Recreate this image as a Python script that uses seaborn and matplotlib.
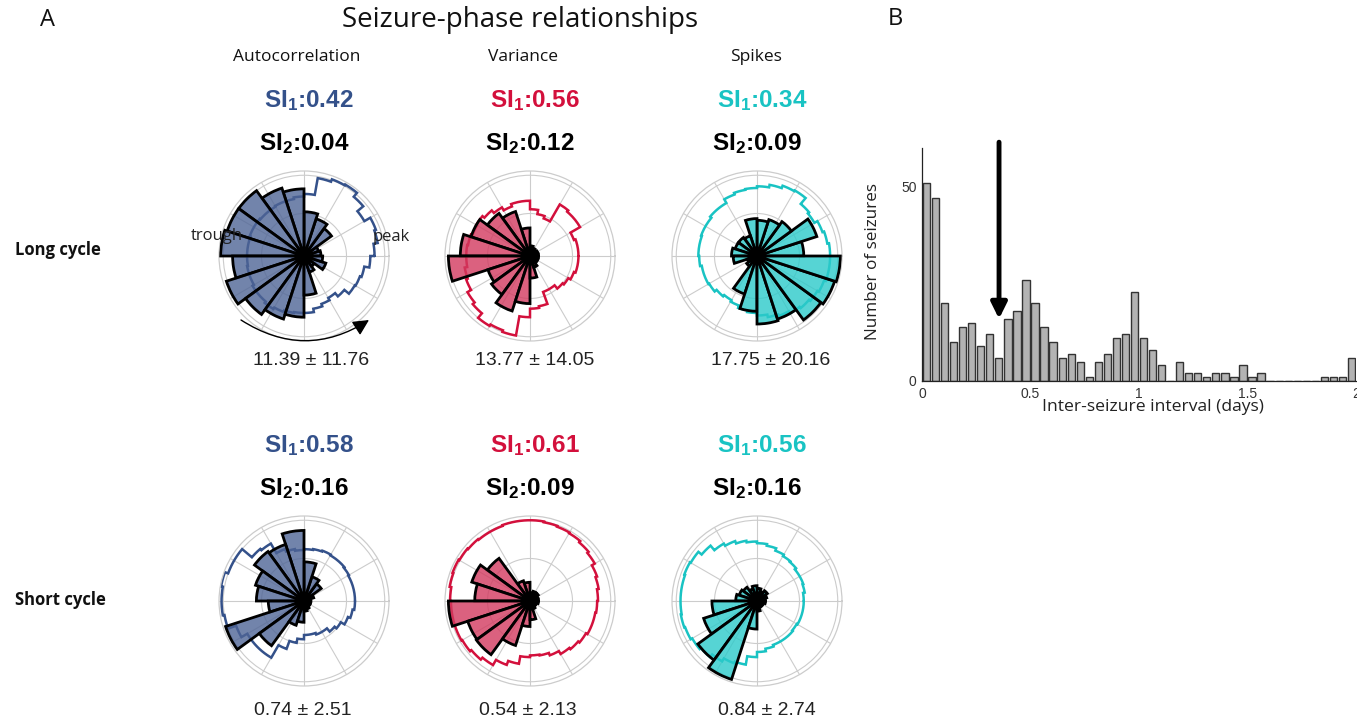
import numpy as np
import pandas as pd
import matplotlib
matplotlib.use("Agg")
import matplotlib.pyplot as plt
from matplotlib.colors import to_rgba
from matplotlib.patches import FancyArrowPatch
import seaborn as sns

W, H = 1357, 717

# ---------------- data ----------------
cycle_rows = ["Long cycle", "Short cycle"]
feature_cols = ["Autocorrelation", "Variance", "Spikes"]

si1_long = [0.42, 0.56, 0.34]
si2_long = [0.04, 0.12, 0.09]
si1_short = [0.58, 0.61, 0.56]
si2_short = [0.16, 0.09, 0.16]

cycle_mean_long = ["11.39", "13.77", "17.75"]
cycle_sd_long = ["11.76", "14.05", "20.16"]
cycle_mean_short = ["0.74", "0.54", "0.84"]
cycle_sd_short = ["2.51", "2.13", "2.74"]

# seizure-phase bars: 20 bins of 18 degrees, counter-clockwise from 0 (peak)
long_autocorr_bars = [0.2, 0.18, 0.4, 0.46, 0.52, 0.79, 0.84, 0.95, 0.95, 0.98,
                      0.84, 0.96, 0.85, 0.78, 0.72, 0.46, 0.2, 0.15, 0.27, 0.22]
long_variance_bars = [0.1, 0.1, 0.09, 0.1, 0.12, 0.33, 0.55, 0.62, 0.73, 0.82,
                      0.96, 0.52, 0.56, 0.68, 0.56, 0.26, 0.14, 0.1, 0.1, 0.1]
long_spikes_bars = [0.55, 0.74, 0.5, 0.45, 0.42, 0.44, 0.25, 0.27, 0.27, 0.3,
                    0.28, 0.12, 0.15, 0.47, 0.65, 0.8, 0.78, 0.93, 0.96, 0.98]
short_autocorr_bars = [0.08, 0.12, 0.25, 0.3, 0.46, 0.83, 0.7, 0.72, 0.6, 0.56,
                       0.42, 0.97, 0.65, 0.3, 0.25, 0.12, 0.1, 0.08, 0.08, 0.08]
short_variance_bars = [0.1, 0.1, 0.12, 0.12, 0.1, 0.22, 0.25, 0.62, 0.72, 0.65,
                       0.96, 0.77, 0.78, 0.55, 0.3, 0.22, 0.1, 0.08, 0.08, 0.1]
short_spikes_bars = [0.1, 0.12, 0.15, 0.12, 0.15, 0.18, 0.15, 0.2, 0.22, 0.25,
                     0.53, 0.66, 0.86, 0.97, 0.33, 0.12, 0.08, 0.08, 0.08, 0.1]

# phase occupancy of the signal: 36 bins of 10 degrees
long_autocorr_outline = [0.83, 0.88, 0.9, 0.82, 0.91, 0.97, 0.96, 0.93, 0.73, 0.7,
                         0.68, 0.68, 0.67, 0.67, 0.68, 0.68, 0.67, 0.67, 0.67, 0.68,
                         0.68, 0.7, 0.7, 0.72, 0.7, 0.68, 0.67, 0.67, 0.63, 0.6,
                         0.57, 0.62, 0.69, 0.7, 0.72, 0.78]
long_variance_outline = [0.57, 0.57, 0.55, 0.68, 0.68, 0.7, 0.47, 0.5, 0.55, 0.65,
                         0.65, 0.62, 0.66, 0.7, 0.73, 0.72, 0.74, 0.75, 0.75, 0.78,
                         0.8, 0.85, 0.88, 0.95, 0.93, 0.95, 0.72, 0.62, 0.6, 0.45,
                         0.45, 0.5, 0.52, 0.55, 0.57, 0.57]
long_spikes_outline = [0.86, 0.84, 0.82, 0.78, 0.8, 0.89, 0.88, 0.85, 0.82, 0.8,
                       0.79, 0.77, 0.72, 0.72, 0.7, 0.7, 0.69, 0.69, 0.68, 0.66,
                       0.66, 0.65, 0.62, 0.6, 0.62, 0.65, 0.67, 0.7, 0.73, 0.75,
                       0.78, 0.8, 0.82, 0.84, 0.86, 0.86]
short_autocorr_outline = [0.6, 0.6, 0.6, 0.61, 0.62, 0.62, 0.63, 0.62, 0.61, 0.6,
                          0.62, 0.65, 0.78, 0.8, 0.95, 0.95, 0.99, 0.97, 0.97, 0.95,
                          0.85, 0.77, 0.77, 0.77, 0.6, 0.5, 0.45, 0.4, 0.4, 0.42,
                          0.42, 0.47, 0.5, 0.55, 0.58, 0.6]
short_variance_outline = [0.8, 0.82, 0.84, 0.88, 0.9, 0.92, 0.93, 0.94, 0.95, 0.95,
                          0.95, 0.94, 0.94, 0.95, 0.96, 0.97, 0.96, 0.94, 0.93, 0.93,
                          0.93, 0.92, 0.9, 0.87, 0.8, 0.75, 0.66, 0.64, 0.65, 0.68,
                          0.72, 0.74, 0.76, 0.78, 0.78, 0.79]
short_spikes_outline = [0.55, 0.57, 0.58, 0.58, 0.6, 0.61, 0.63, 0.66, 0.68, 0.7,
                        0.72, 0.75, 0.78, 0.85, 0.9, 0.91, 0.9, 0.9, 0.9, 0.91,
                        0.9, 0.88, 0.86, 0.82, 0.78, 0.76, 0.66, 0.6, 0.57, 0.55,
                        0.55, 0.55, 0.54, 0.55, 0.55, 0.55]

# inter-seizure intervals, hourly bins over 0-2 days
isi_bin_days = 1 / 24
isi_counts = [51, 47, 20, 10, 14, 15, 9, 12, 6, 16, 18, 26, 20, 14, 10, 6, 7, 5,
              1, 5, 7, 11, 12, 23, 11, 8, 4, 0, 5, 2, 2, 1, 2, 2, 1, 4, 1, 2,
              0, 0, 0, 0, 0, 0, 1, 1, 1, 6]
isi_marker_days = 0.355

# ---------------- style ----------------
line_colors = ["#34518a", "#d3103c", "#19c3c3"]
fill_colors = ["#4f6596", "#d23a5f", "#2ccaca"]

sns.set_theme(style="white")
plt.rcParams["font.family"] = ["Open Sans", "DejaVu Sans"]
plt.rcParams["mathtext.fontset"] = "custom"
plt.rcParams["mathtext.rm"] = "Liberation Sans:bold"
plt.rcParams["mathtext.bf"] = "Liberation Sans:bold"
plt.rcParams["mathtext.it"] = "Liberation Sans:bold"

fig = plt.figure(figsize=(W / 100, H / 100), dpi=100)
fig.patch.set_facecolor("white")


def fx(x):
    return x / W


def fy(y):
    return 1 - y / H


def polar_panel(cx, cy, bars, outline, line_c, fill_c, R=85):
    ax = fig.add_axes([(cx - R) / W, 1 - (cy + R) / H, 2 * R / W, 2 * R / H],
                      projection="polar")
    ax.set_ylim(0, 1)
    ax.set_rticks([0.5, 0.95])
    ax.set_yticklabels([])
    ax.set_xticks(np.deg2rad(np.arange(0, 360, 30)))
    ax.set_xticklabels([])
    ax.grid(True, color="#cccccc", lw=0.8)
    ax.spines["polar"].set_color("#cccccc")
    ax.spines["polar"].set_linewidth(0.9)
    ax.set_facecolor("white")

    # step outline of the phase distribution
    n = len(outline)
    edges = np.linspace(0, 2 * np.pi, n + 1)
    th, rr = [], []
    for j, v in enumerate(outline):
        t = np.linspace(edges[j], edges[j + 1], 8)
        th.extend(t)
        rr.extend([v] * len(t))
    th.append(2 * np.pi)
    rr.append(outline[0])
    ax.plot(th, rr, color=line_c, lw=1.8, zorder=2, solid_joinstyle="miter")

    # seizure-phase histogram
    nb = len(bars)
    width = 2 * np.pi / nb
    centers = (np.arange(nb) + 0.5) * width
    ax.bar(centers, bars, width=width, bottom=0,
           facecolor=to_rgba(fill_c, 0.8), edgecolor="black", lw=2.0, zorder=3)
    return ax


col_x = [304, 530, 757]
row_y = [256, 601]
all_bars = [[long_autocorr_bars, long_variance_bars, long_spikes_bars],
            [short_autocorr_bars, short_variance_bars, short_spikes_bars]]
all_outlines = [[long_autocorr_outline, long_variance_outline, long_spikes_outline],
                [short_autocorr_outline, short_variance_outline, short_spikes_outline]]
si1 = [si1_long, si1_short]
si2 = [si2_long, si2_short]
means = [cycle_mean_long, cycle_mean_short]
sds = [cycle_sd_long, cycle_sd_short]
si1_base = [107, 452]
si2_base = [150, 495]
stat_base = [365, 715]
stat_x = [[311, 535, 771], [303, 528, 767]]

axes = {}
for r in range(2):
    for c in range(3):
        axes[(r, c)] = polar_panel(col_x[c], row_y[r], all_bars[r][c],
                                   all_outlines[r][c], line_colors[c], fill_colors[c])
        fig.text(fx(col_x[c] + 5), fy(si1_base[r]),
                 "SI$_{1}$:%.2f" % si1[r][c], color=line_colors[c],
                 fontsize=17.5, fontweight="bold", family="Liberation Sans",
                 ha="center", va="baseline")
        fig.text(fx(col_x[c]), fy(si2_base[r]),
                 "SI$_{2}$:%.2f" % si2[r][c], color="black",
                 fontsize=17.5, fontweight="bold", family="Liberation Sans",
                 ha="center", va="baseline")
        fig.text(fx(stat_x[r][c]), fy(stat_base[r]),
                 "%s \u00b1 %s" % (means[r][c], sds[r][c]), color="#222222",
                 fontsize=14, family="Liberation Sans", ha="center", va="baseline")

# phase labels on the first panel
fig.text(fx(217), fy(236), "trough", fontsize=12, color="#222222",
         ha="center", va="center", zorder=10)
fig.text(fx(391), fy(237), "peak", fontsize=12, color="#222222",
         ha="center", va="center", zorder=10)

# direction-of-phase arrow under the first panel
arc = FancyArrowPatch((fx(241), fy(320)), (fx(369), fy(320)),
                      transform=fig.transFigure,
                      connectionstyle="arc3,rad=0.32",
                      arrowstyle="-|>,head_length=0.8,head_width=0.4",
                      mutation_scale=12, lw=1.0, color="black",
                      shrinkA=0, shrinkB=0)
fig.add_artist(arc)

# column and row titles
for c, name in enumerate(feature_cols):
    fig.text(fx([297, 523, 756][c]), fy(57), name, fontsize=12.5,
             color="#111111", ha="center", va="center")
for r, name in enumerate(cycle_rows):
    fig.text(fx(15), fy([250, 600][r]), name, fontsize=12, fontweight="bold",
             color="#111111", ha="left", va="center")

fig.text(fx(47), fy(20), "A", fontsize=17, ha="center", va="center", color="#111111")
fig.text(fx(895), fy(19), "B", fontsize=17, ha="center", va="center", color="#111111")
fig.text(fx(520), fy(20), "Seizure-phase relationships", fontsize=20,
         ha="center", va="center", color="#111111")

# ---------------- inter-seizure interval histogram ----------------
axh = fig.add_axes([fx(922), fy(381), (1356 - 922) / W, (381 - 148) / H])
isi_edges = np.arange(len(isi_counts) + 1) * isi_bin_days
isi_df = pd.DataFrame({"interval": (isi_edges[:-1] + isi_edges[1:]) / 2,
                       "count": isi_counts})
sns.histplot(data=isi_df, x="interval", weights="count",
             binwidth=isi_bin_days, binrange=(0, len(isi_counts) * isi_bin_days),
             ax=axh, color="#b3b3b3", edgecolor="#333333", linewidth=1.0,
             alpha=1, shrink=0.8)
axh.set_xlim(0, 2)
axh.set_ylim(0, 60)
sns.despine(ax=axh)
for s in ["left", "bottom"]:
    axh.spines[s].set_color("#222222")
    axh.spines[s].set_linewidth(0.9)
axh.set_xticks([0, 0.5, 1, 1.5, 2])
axh.set_xticklabels(["0", "0.5", "1", "1.5", "2"])
axh.set_yticks([0, 50])
axh.tick_params(axis="both", direction="in", length=3, width=0.8, pad=4,
                labelsize=10, labelcolor="#333333", colors="#333333")
for lab in axh.get_xticklabels() + axh.get_yticklabels():
    lab.set_family("Liberation Sans")
axh.set_xlabel("Inter-seizure interval (days)", fontsize=12.6, color="#222222")
axh.xaxis.set_label_coords((1153 - 922) / 434, (381 - 407) / 233)
axh.xaxis.label.set_va("center")
axh.set_ylabel("Number of seizures", fontsize=12.3, color="#222222")
axh.yaxis.set_label_coords((873 - 922) / 434, (381 - 262) / 233)
axh.yaxis.label.set_va("center")

axh.annotate("", xy=(isi_marker_days, 16), xytext=(isi_marker_days, 61.5),
             arrowprops=dict(arrowstyle="-|>,head_length=0.95,head_width=0.47",
                             lw=3.5, color="black", mutation_scale=10,
                             shrinkA=0, shrinkB=0),
             annotation_clip=False)

fig.savefig("out.png", dpi=100, facecolor="white")
